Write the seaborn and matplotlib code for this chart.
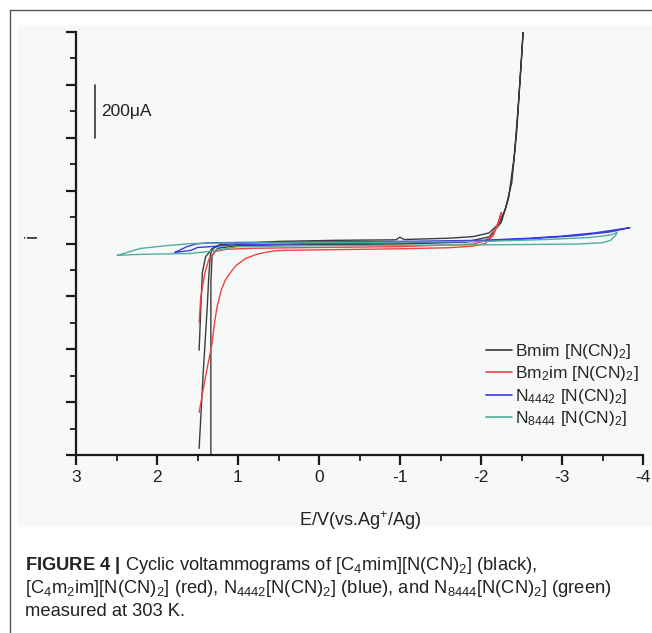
import pandas as pd
import matplotlib
matplotlib.use("Agg")
import matplotlib.pyplot as plt
import seaborn as sns
from matplotlib import font_manager
from matplotlib.patches import Rectangle
from matplotlib.lines import Line2D
from matplotlib.ticker import MultipleLocator

# ----------------------------------------------
# Data: potential E (V vs Ag+/Ag) and current i (uA)
# ----------------------------------------------
bmim_E = [1.48, 1.43, 1.38, 1.36, 1.34, 1.30, 1.22, 0.5, -0.2, -0.95, -1.0, -1.05, -1.6, -1.9,
          -2.10, -2.22, -2.30, -2.38, -2.44, -2.48, -2.52, -2.50, -2.46, -2.41, -2.34, -2.25,
          -2.10, -1.8, -1.0, 0.2, 1.0, 1.25, 1.32, 1.335, 1.335]
bmim_I = [-775, -491, -242, -120, -40, -15, -4, 8, 12, 14, 24, 15, 20, 26,
          40, 75, 130, 230, 420, 610, 800, 700, 520, 330, 170, 80,
          25, 5, -2, -5, -8, -18, -45, -150, -850]
bmim2_E = [1.22, 1.32, 1.40, 1.44, 1.46, 1.48]
bmim2_I = [-6, -20, -50, -110, -250, -404]

bm2im_E = [1.48, 1.41, 1.36, 1.32, 1.29, 1.26, 1.21, 1.16, 1.10, 1.03, 0.91, 0.78, 0.67, 0.55,
           0.45, 0.0, -1.0, -1.6, -1.9, -2.05, -2.15, -2.21, -2.25, -2.22, -2.15, -2.05, -1.9,
           -1.0, 0.0, 0.8, 1.15, 1.28, 1.36, 1.41, 1.46, 1.48]
bm2im_I = [-639, -518, -440, -378, -300, -242, -180, -140, -113, -85, -57, -42, -34, -28,
           -26, -24, -20, -16, -10, 0, 30, 75, 117, 85, 35, 10, -2,
           -12, -15, -18, -22, -30, -60, -113, -204, -299]

n4442_E = [1.78, 1.70, 1.63, 1.52, 1.40, 1.0, 0.0, -1.0, -2.0, -2.6, -3.0, -3.4, -3.84,
           -3.6, -3.2, -2.6, -2.0, -1.0, 0.0, 1.0, 1.35, 1.50, 1.58, 1.68, 1.78]
n4442_I = [-34, -22, -12, -2, 2, 4, 6, 8, 12, 20, 28, 40, 60,
           44, 30, 18, 8, 2, 0, -4, -12, -15, -26, -30, -34]

n8444_E = [2.49, 2.21, 1.88, 1.56, 1.0, 0.0, -1.0, -2.0, -2.8, -3.3, -3.5, -3.62, -3.68,
           -3.66, -3.60, -3.50, -3.2, -2.5, -1.5, 0.0, 1.0, 1.35, 1.6, 2.0, 2.3, 2.49]
n8444_I = [-45, -19, -8, 0, 2, 3, 5, 8, 15, 22, 28, 34, 42,
           30, 12, 3, -2, -4, -6, -8, -12, -30, -38, -40, -42, -45]

series_names = ["Bmim", "Bm2im", "N4442", "N8444"]
legend_labels = ["Bmim [N(CN)$_2$]", "Bm$_2$im [N(CN)$_2$]",
                 "N$_{4442}$ [N(CN)$_2$]", "N$_{8444}$ [N(CN)$_2$]"]
colors = ["#3c3c3c", "#ee4444", "#3b3be0", "#4fae9e"]

# scale bar
bar_E, bar_lo, bar_len = 2.765, 400, 200

segments = {
    "Bmim": [(bmim_E, bmim_I), (bmim2_E, bmim2_I)],
    "Bm2im": [(bm2im_E, bm2im_I)],
    "N4442": [(n4442_E, n4442_I)],
    "N8444": [(n8444_E, n8444_I)],
}
frames = []
for name, segs in segments.items():
    for k, (E, I) in enumerate(segs):
        frames.append(pd.DataFrame({"E": E, "I": I, "series": name, "seg": f"{name}-{k}"}))
df = pd.concat(frames, ignore_index=True)

# ----------------------------------------------
# Style
# ----------------------------------------------
sns.set_style("ticks")
names = {f.name for f in font_manager.fontManager.ttflist}
font = "Liberation Sans Narrow" if "Liberation Sans Narrow" in names else "Liberation Sans"
plt.rcParams["font.family"] = [font, "DejaVu Sans"]
plt.rcParams["mathtext.fontset"] = "custom"
plt.rcParams["mathtext.rm"] = font
plt.rcParams["mathtext.it"] = font + ":italic"
plt.rcParams["mathtext.bf"] = font + ":bold"
plt.rcParams["axes.unicode_minus"] = False

W, H = 652, 633
fig = plt.figure(figsize=(W / 100, H / 100), dpi=100)
fig.patch.set_facecolor("white")

# grey panel and outer frame (behind the axes)
fig.patches.append(Rectangle((17 / W, 1 - 527 / H), 1 - 17 / W, (527 - 25) / H,
                             transform=fig.transFigure, facecolor="#f7f8f8",
                             edgecolor="none", zorder=-10))
fig.lines.append(Line2D([10 / W, 1], [1 - 10 / H, 1 - 10 / H], transform=fig.transFigure,
                        color="#555555", lw=1.0, zorder=-5))
fig.lines.append(Line2D([10 / W, 10 / W], [0, 1 - 10 / H], transform=fig.transFigure,
                        color="#555555", lw=1.0, zorder=-5))

ax = fig.add_axes([76 / W, 1 - 455 / H, 567 / W, 423 / H])
ax.set_facecolor("none")

sns.lineplot(data=df, x="E", y="I", hue="series", units="seg", estimator=None, sort=False,
             palette=dict(zip(series_names, colors)), linewidth=1.0, legend=False, ax=ax)

ax.set_xlim(3, -4)
ax.set_ylim(-800, 800)
ax.xaxis.set_major_locator(MultipleLocator(1))
ax.xaxis.set_minor_locator(MultipleLocator(0.5))
ax.yaxis.set_major_locator(MultipleLocator(200))
ax.yaxis.set_minor_locator(MultipleLocator(100))
ax.set_xticks(range(3, -5, -1))
ax.set_xticklabels([str(v) for v in range(3, -5, -1)])

for s in ["top", "right"]:
    ax.spines[s].set_visible(False)
for s in ["left", "bottom"]:
    ax.spines[s].set_linewidth(1.6)
    ax.spines[s].set_color("#1a1a1a")
ax.tick_params(which="major", direction="out", length=7, width=1.6, color="#1a1a1a",
               labelsize=12.5, pad=4, labelcolor="#222222")
ax.tick_params(which="minor", direction="out", length=4, width=1.3, color="#1a1a1a")
ax.tick_params(axis="y", labelleft=False)

ax.set_xlabel("E/V(vs.Ag$^{+}$/Ag)", fontsize=13, color="#222222")
ax.xaxis.set_label_coords(0.5, (455 - 509) / 423)
ax.set_ylabel("i", fontsize=13, color="#222222")
ax.yaxis.set_label_coords((41 - 76) / 567, (455 - 236) / 423)

# 200 uA scale bar
ax.plot([bar_E, bar_E], [bar_lo, bar_lo + bar_len], color="#333333", lw=1.2)
ax.text(bar_E - 0.07, bar_lo + bar_len / 2, "200μA", fontsize=12.5, va="center",
        ha="left", color="#222222")

handles = [Line2D([], [], color=c, lw=1.2) for c in colors]
ax.legend(handles, legend_labels, loc="upper left", bbox_to_anchor=(486 / W, 1 - 342 / H),
          bbox_transform=fig.transFigure, frameon=False, fontsize=12.5, borderpad=0,
          borderaxespad=0, handlelength=1.5, handletextpad=0.15, labelspacing=0.2)

# caption
cap = [r"$\mathbf{FIGURE\ 4\ |}$ Cyclic voltammograms of [C$_4$mim][N(CN)$_2$] (black),",
       r"[C$_4$m$_2$im][N(CN)$_2$] (red), N$_{4442}$[N(CN)$_2$] (blue), and N$_{8444}$[N(CN)$_2$] (green)",
       "measured at 303 K."]
for k, line in enumerate(cap):
    fig.text(25 / W, 1 - (570 + 23 * k) / H, line, fontsize=13.2, color="#222222",
             va="baseline", ha="left")

fig.savefig("out.png", dpi=100)
